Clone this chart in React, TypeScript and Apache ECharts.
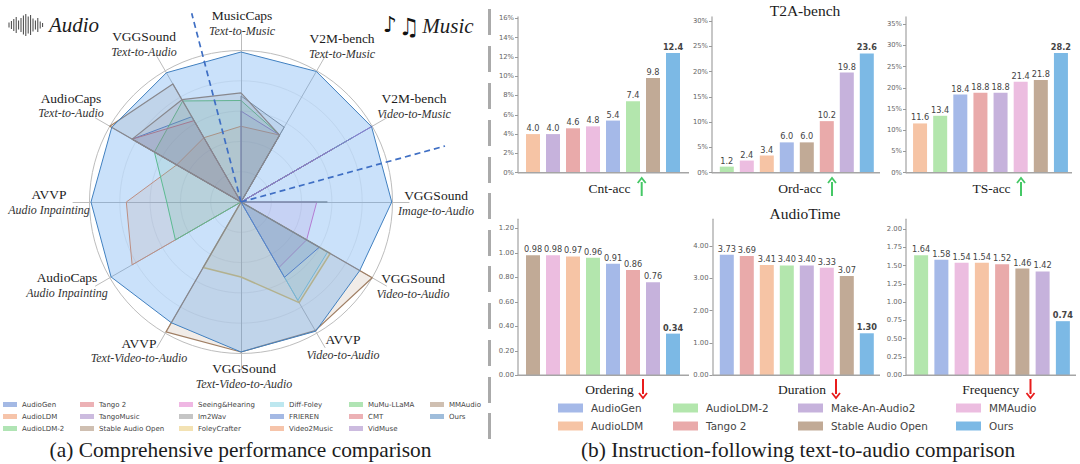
import { useEffect, useRef } from 'react'
import * as echarts from 'echarts'

const SERIF = '"Liberation Serif", serif'
const SANS = '"DejaVu Sans", sans-serif'

// radar, counter-clockwise from the top
const radarAxes = [
  ['MusicCaps', 'Text-to-Music'],
  ['VGGSound', 'Text-to-Audio'],
  ['AudioCaps', 'Text-to-Audio'],
  ['AVVP', 'Audio Inpainting'],
  ['AudioCaps', 'Audio Inpainting'],
  ['AVVP', 'Text-Video-to-Audio'],
  ['VGGSound', 'Text-Video-to-Audio'],
  ['AVVP', 'Video-to-Audio'],
  ['VGGSound', 'Video-to-Audio'],
  ['VGGSound', 'Image-to-Audio'],
  ['V2M-bench', 'Video-to-Music'],
  ['V2M-bench', 'Text-to-Music'],
]
const radarLabelSpots = [
  [242, 15, 31],
  [144, 36, 52],
  [71, 98, 113],
  [49, 194, 210],
  [67, 277, 293],
  [139, 343, 358],
  [244, 368, 384],
  [343, 339, 355],
  [413, 278, 294],
  [436, 195, 211],
  [414, 98, 114],
  [342, 38, 54],
]

const radarNames = [
  'AudioGen', 'AudioLDM', 'AudioLDM-2', 'Tango 2', 'TangoMusic', 'Stable Audio Open',
  'Seeing&Hearing', 'Im2Wav', 'FoleyCrafter', 'Diff-Foley', 'FRIEREN', 'Video2Music',
  'MuMu-LLaMA', 'CMT', 'VidMuse', 'MMAudio', 'Ours',
]
const radarColors = [
  '#4a74c9', '#ee8a55', '#62c96a', '#d9646c', '#9a78c0', '#a07f64',
  '#e070c8', '#8c8c8c', '#e8c668', '#7ccfe0', '#4a74c9', '#ee8a55',
  '#62c96a', '#d9646c', '#9a78c0', '#a07f64', '#3f7cb8',
]
const radarValues = [
  [0, 0.65, 0.83, 0, 0, 0, 0, 0, 0, 0, 0, 0],
  [0.5, 0.49, 0.49, 0.757, 0.83, 0, 0, 0, 0, 0, 0, 0.51],
  [0.67, 0.77, 0.66, 0.49, 0.5, 0, 0, 0, 0, 0, 0, 0.51],
  [0, 0.62, 0.83, 0, 0, 0, 0, 0, 0, 0, 0, 0],
  [0.6, 0, 0, 0, 0, 0, 0, 0, 0, 0, 0, 0.51],
  [0, 0.9, 1, 0, 0, 0, 0, 0, 0, 0, 0, 0],
  [0, 0, 0, 0, 0, 0, 0, 0.5, 0.5, 0.5, 0, 0],
  [0.7, 0, 0, 0, 0, 0, 0, 0, 0, 0.57, 0, 0.57],
  [0, 0, 0, 0, 0, 0.5, 0.495, 0.767, 0.68, 0, 0, 0],
  [0, 0, 0, 0, 0, 0, 0, 0.75, 0.66, 0, 0, 0],
  [0, 0, 0, 0, 0, 0, 0, 0.574, 0.597, 0, 0, 0],
  [0, 0, 0, 0, 0, 0, 0, 0, 0, 0, 0.55, 0],
  [0, 0, 0, 0, 0, 0, 0, 0, 0, 0, 0.85, 0],
  [0, 0, 0, 0, 0, 0, 0, 0, 0, 0, 0.7, 0],
  [0, 0, 0, 0, 0, 0, 0, 0, 0, 0, 1, 0],
  [0.72, 0.78, 0.83, 0, 0, 0.99, 0.99, 0.98, 1, 0, 0, 0.51],
  [0.99, 0.985, 0.985, 0.99, 0.99, 0.92, 0.99, 0.985, 0.905, 0.995, 0.995, 0.995],
]
const radarLegendColumns = [
  ['AudioGen', 'AudioLDM', 'AudioLDM-2'],
  ['Tango 2', 'TangoMusic', 'Stable Audio Open'],
  ['Seeing&Hearing', 'Im2Wav', 'FoleyCrafter'],
  ['Diff-Foley', 'FRIEREN', 'Video2Music'],
  ['MuMu-LLaMA', 'CMT', 'VidMuse'],
  ['MMAudio', 'Ours'],
]
const radarLegendX = [3, 80, 179, 270, 349, 430]

// bars
const barColors: Record<string, string> = {
  AudioGen: '#a5b9e8',
  AudioLDM: '#f6c4a5',
  'AudioLDM-2': '#b3e6ad',
  'Tango 2': '#e9aaaa',
  'Make-An-Audio2': '#c6b2dc',
  'Stable Audio Open': '#c1aa96',
  MMAudio: '#ecbde0',
  Ours: '#7cb9e5',
}
const barLegendColumns = [
  ['AudioGen', 'AudioLDM'],
  ['AudioLDM-2', 'Tango 2'],
  ['Make-An-Audio2', 'Stable Audio Open'],
  ['MMAudio', 'Ours'],
]
const barLegendX = [558, 673, 798, 956]

const cntOrder = ['AudioLDM', 'Make-An-Audio2', 'Tango 2', 'MMAudio', 'AudioGen', 'AudioLDM-2', 'Stable Audio Open', 'Ours']
const cntValues = [4.0, 4.0, 4.6, 4.8, 5.4, 7.4, 9.8, 12.4]
const ordOrder = ['AudioLDM-2', 'MMAudio', 'AudioLDM', 'AudioGen', 'Stable Audio Open', 'Tango 2', 'Make-An-Audio2', 'Ours']
const ordValues = [1.2, 2.4, 3.4, 6.0, 6.0, 10.2, 19.8, 23.6]
const tsOrder = ['AudioLDM', 'AudioLDM-2', 'AudioGen', 'Tango 2', 'Make-An-Audio2', 'MMAudio', 'Stable Audio Open', 'Ours']
const tsValues = [11.6, 13.4, 18.4, 18.8, 18.8, 21.4, 21.8, 28.2]
const orderingOrder = ['Stable Audio Open', 'MMAudio', 'AudioLDM', 'AudioLDM-2', 'AudioGen', 'Tango 2', 'Make-An-Audio2', 'Ours']
const orderingValues = [0.98, 0.98, 0.97, 0.96, 0.91, 0.86, 0.76, 0.34]
const durationOrder = ['AudioGen', 'Tango 2', 'AudioLDM', 'AudioLDM-2', 'Make-An-Audio2', 'MMAudio', 'Stable Audio Open', 'Ours']
const durationValues = [3.73, 3.69, 3.41, 3.4, 3.4, 3.33, 3.07, 1.3]
const frequencyOrder = ['AudioLDM-2', 'AudioGen', 'MMAudio', 'AudioLDM', 'Tango 2', 'Stable Audio Open', 'Make-An-Audio2', 'Ours']
const frequencyValues = [1.64, 1.58, 1.54, 1.54, 1.52, 1.46, 1.42, 0.74]

const pctTicks1 = [0, 2, 4, 6, 8, 10, 12, 14, 16]
const pctTicks2 = [0, 5, 10, 15, 20, 25, 30]
const pctTicks3 = [0, 5, 10, 15, 20, 25, 30, 35]
const orderingTicks = [0, 0.2, 0.4, 0.6, 0.8, 1, 1.2]
const durationTicks = [0, 1, 2, 3, 4]
const frequencyTicks = [0, 0.25, 0.5, 0.75, 1, 1.25, 1.5, 1.75, 2]

type Panel = {
  order: string[]
  values: number[]
  ticks: number[]
  max: number
  digits: number
  pct?: boolean
  left: number
  top: number
  height: number
  axisX: number
  baseEnd: number
  width: number
}

const panels: Panel[] = [
  { order: cntOrder, values: cntValues, ticks: pctTicks1, max: 16.13, digits: 1, pct: true, left: 523, top: 17, height: 155.7, axisX: 518, baseEnd: 689, width: 160 },
  { order: ordOrder, values: ordValues, ticks: pctTicks2, max: 30.8, digits: 1, pct: true, left: 716.8, top: 17, height: 155.7, axisX: 712, baseEnd: 880, width: 160 },
  { order: tsOrder, values: tsValues, ticks: pctTicks3, max: 36.66, digits: 1, pct: true, left: 910, top: 17, height: 155.7, axisX: 906, baseEnd: 1072, width: 161 },
  { order: orderingOrder, values: orderingValues, ticks: orderingTicks, max: 1.273, digits: 2, left: 523, top: 219.3, height: 156, axisX: 518, baseEnd: 689, width: 160 },
  { order: durationOrder, values: durationValues, ticks: durationTicks, max: 4.826, digits: 2, left: 716.8, top: 219.3, height: 156, axisX: 712.5, baseEnd: 880, width: 160 },
  { order: frequencyOrder, values: frequencyValues, ticks: frequencyTicks, max: 2.133, digits: 2, left: 911, top: 219.3, height: 156, axisX: 906, baseEnd: 1076, width: 162 },
]

const waveHeights = [5, 8, 12, 16, 9, 14, 19, 22, 17, 20, 13, 9, 14, 7, 4]
const dashStarts = [9, 46, 83, 120, 157, 193, 230, 266, 303, 340, 377, 413]

function serifText(text: string, x: number, y: number, size: number, italic = false, fill = '#1c1c1c') {
  return {
    type: 'text',
    x,
    y,
    z: 100,
    style: {
      text,
      fill,
      font: `${italic ? 'italic ' : ''}${size}px ${SERIF}`,
      textAlign: 'center',
      textVerticalAlign: 'middle',
    },
  }
}

function arrow(x: number, tail: number, tip: number, color: string) {
  const dir = tip > tail ? -1 : 1
  return [
    { type: 'line', z: 100, shape: { x1: x, y1: tail, x2: x, y2: tip + dir * 4 }, style: { stroke: color, lineWidth: 2 } },
    {
      type: 'polyline',
      z: 100,
      shape: { points: [[x - 4, tip + dir * 5], [x, tip], [x + 4, tip + dir * 5]] },
      style: { stroke: color, lineWidth: 1.8, fill: 'none' },
    },
  ]
}

function lineWidthOf(name: string) {
  if (name === 'MMAudio' || name === 'Stable Audio Open') return 1.2
  if (name === 'FoleyCrafter') return 1.5
  return 1
}

function buildOption() {
  const center = ['241', '202']
  const indicator = radarAxes.map(() => ({ name: '', min: 0, max: 1 }))

  const radarSeries = radarNames.map((name, i) => ({
    type: 'radar',
    name,
    radarIndex: 1,
    symbol: 'none',
    z: 3,
    lineStyle: { color: radarColors[i], width: lineWidthOf(name) },
    areaStyle: { color: name === 'Ours' ? '#4f9cf0' : radarColors[i], opacity: name === 'Ours' ? 0.3 : 0.15 },
    data: [{ name, value: radarValues[i] }],
  }))

  const barSeries: any[] = []
  panels.forEach((p, idx) => {
    p.order.forEach((name, i) => {
      barSeries.push({
        type: 'bar',
        name,
        xAxisIndex: idx,
        yAxisIndex: idx,
        stack: `panel${idx}`,
        barWidth: 14,
        itemStyle: { color: barColors[name] },
        label: {
          show: true,
          position: 'top',
          distance: 2,
          fontFamily: SANS,
          fontSize: 8.2,
          color: '#444',
          fontWeight: name === 'Ours' ? 'bold' : 'normal',
          formatter: (v: any) => Number(v.value).toFixed(p.digits),
        },
        data: p.order.map((_, j) => (j === i ? p.values[i] : null)),
      })
    })
  })

  const legendBase = {
    orient: 'vertical',
    icon: 'rect',
    selectedMode: false,
    padding: 0,
    itemStyle: { borderWidth: 0 },
    lineStyle: { width: 0 },
  }
  const radarLegends = radarLegendColumns.map((names, i) => ({
    ...legendBase,
    left: radarLegendX[i],
    top: 401,
    itemWidth: 14,
    itemHeight: 5,
    itemGap: 5,
    textStyle: { fontFamily: SANS, fontSize: 7, color: '#444' },
    data: names.map((name) => ({
      name,
      itemStyle: { color: radarColors[radarNames.indexOf(name)], opacity: 0.5 },
    })),
  }))
  const barLegends = barLegendColumns.map((names, i) => ({
    ...legendBase,
    left: barLegendX[i],
    top: 403,
    itemWidth: 25,
    itemHeight: 9,
    itemGap: 8,
    textStyle: { fontFamily: SANS, fontSize: 10.4, color: '#444', padding: [0, 0, 0, 3] },
    data: names.map((name) => ({ name, itemStyle: { color: barColors[name], opacity: 1 } })),
  }))

  const elements: any[] = []

  radarAxes.forEach(([a, b], i) => {
    const [x, y1, y2] = radarLabelSpots[i]
    elements.push(serifText(a, x, y1, 13.5))
    elements.push(serifText(b, x, y2, 12, true, '#333'))
  })

  // dashed split between audio and music
  const dash = { stroke: '#3f6fc4', lineWidth: 1.7, lineDash: [6, 4] }
  elements.push({ type: 'line', z: 100, shape: { x1: 241, y1: 202, x2: 191.7, y2: 13.3 }, style: dash })
  elements.push({ type: 'line', z: 100, shape: { x1: 241, y1: 202, x2: 445, y2: 146 }, style: dash })

  waveHeights.forEach((h, i) => {
    const x = 9 + i * 2.4
    elements.push({ type: 'line', z: 100, shape: { x1: x, y1: 25 - h / 2, x2: x, y2: 25 + h / 2 }, style: { stroke: '#444', lineWidth: 1 } })
  })
  elements.push(serifText('Audio', 74, 25, 21, true))
  elements.push(serifText('Music', 448, 26, 21, true))
  elements.push({
    type: 'text',
    x: 390,
    y: 24,
    z: 100,
    style: { text: '♪', fill: '#111', font: `22px ${SANS}`, textAlign: 'center', textVerticalAlign: 'middle' },
  })
  elements.push({
    type: 'text',
    x: 409,
    y: 27,
    z: 100,
    style: { text: '♫', fill: '#111', font: `24px ${SANS}`, textAlign: 'center', textVerticalAlign: 'middle' },
  })

  dashStarts.forEach((y) => {
    elements.push({ type: 'rect', z: 100, shape: { x: 488, y, width: 3, height: 26 }, style: { fill: '#aaaaaa' } })
  })

  panels.forEach((p) => {
    const y = p.top + p.height
    elements.push({ type: 'line', z: 100, shape: { x1: p.axisX, y1: y, x2: p.baseEnd, y2: y }, style: { stroke: '#a5a5a5', lineWidth: 1.5 } })
  })

  elements.push(serifText('T2A-bench', 805, 10, 15.5))
  elements.push(serifText('AudioTime', 805, 213, 15.5))
  elements.push(serifText('Cnt-acc', 609.5, 188, 13.5))
  elements.push(serifText('Ord-acc', 800, 188, 13.5))
  elements.push(serifText('TS-acc', 991.5, 188, 13.5))
  elements.push(serifText('Ordering', 609.5, 389, 13.5))
  elements.push(serifText('Duration', 802, 389, 13.5))
  elements.push(serifText('Frequency', 990.7, 389, 13.5))
  elements.push(...arrow(641.7, 196, 178, '#45c866'))
  elements.push(...arrow(832, 196, 178, '#45c866'))
  elements.push(...arrow(1021, 196, 178, '#45c866'))
  elements.push(...arrow(643, 379, 398, '#e81c1c'))
  elements.push(...arrow(836, 379, 398, '#e81c1c'))
  elements.push(...arrow(1030.5, 379, 398, '#e81c1c'))
  elements.push(serifText('(a) Comprehensive performance comparison', 240.5, 450, 21.4))
  elements.push(serifText('(b) Instruction-following text-to-audio comparison', 798, 450, 21.4))

  return {
    animation: false,
    backgroundColor: '#ffffff',
    radar: [
      {
        center,
        radius: 168,
        indicator,
        shape: 'circle',
        axisName: { show: false },
        axisLine: { lineStyle: { color: '#bcbcbc', width: 1 } },
        axisTick: { show: false },
        axisLabel: { show: false },
        splitLine: { show: false },
        splitArea: { show: false },
      },
      {
        center,
        radius: 151.5,
        indicator,
        shape: 'circle',
        splitNumber: 5,
        axisName: { show: false },
        axisLine: { show: false },
        axisTick: { show: false },
        axisLabel: { show: false },
        // one colour per ring, the centre counts as the first
        splitLine: { lineStyle: { color: ['#eeeeee', '#eeeeee', '#eeeeee', '#eeeeee', '#eeeeee', '#bdbdbd'], width: 1 } },
        splitArea: { show: false },
      },
    ],
    grid: panels.map((p) => ({ left: p.left, top: p.top, width: p.width, height: p.height })),
    xAxis: panels.map((p, idx) => ({
      type: 'category',
      gridIndex: idx,
      data: p.order,
      axisLine: { show: false },
      axisTick: { show: false },
      axisLabel: { show: false },
    })),
    yAxis: panels.map((p, idx) => ({
      type: 'value',
      gridIndex: idx,
      min: 0,
      max: p.max,
      offset: p.left - p.axisX,
      splitLine: { show: false },
      axisLine: { show: true, lineStyle: { color: '#b5b5b5', width: 1.5 } },
      axisTick: { show: true, length: 3, customValues: p.ticks, lineStyle: { color: '#999' } },
      axisLabel: {
        customValues: p.ticks,
        fontFamily: SANS,
        fontSize: 6.8,
        color: '#666',
        margin: 4,
        formatter: (v: number) => (p.pct ? `${v}%` : v.toFixed(2)),
      },
    })),
    legend: [...radarLegends, ...barLegends],
    series: [...radarSeries, ...barSeries],
    graphic: { elements },
  } as any
}

export default function App() {
  const elRef = useRef<HTMLDivElement | null>(null)

  useEffect(() => {
    if (!elRef.current) return
    const chart = echarts.init(elRef.current, undefined, { renderer: 'svg' })
    chart.setOption(buildOption())
    return () => {
      chart.dispose()
    }
  }, [])

  return <div ref={elRef} style={{ position: 'fixed', left: 0, top: 0, width: 1080, height: 464 }} />
}
